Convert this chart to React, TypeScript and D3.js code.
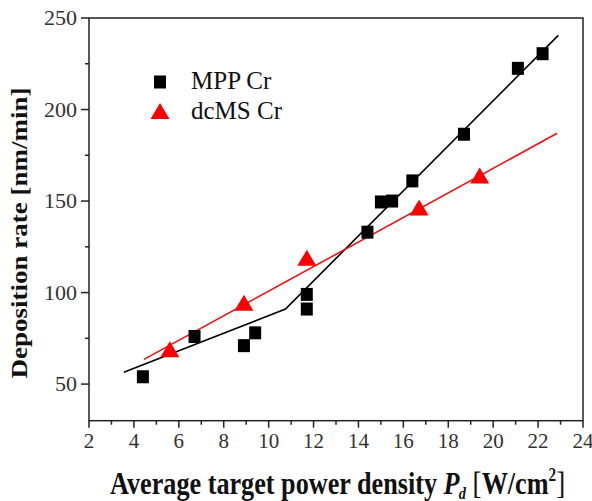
import React from "react";
import * as d3 from "d3";

// Deposition rate vs. average target power density
const mppX = [4.4, 6.7, 8.9, 9.4, 11.7, 11.7, 14.4, 15.0, 15.5, 16.4, 18.7, 21.1, 22.2];
const mppY = [54, 76, 71, 78, 99, 91, 133, 149.5, 150, 161, 186.5, 222.5, 230.5];

const dcmsX = [5.6, 8.9, 11.7, 16.7, 19.4];
const dcmsY = [69, 94.5, 119, 146.5, 164];

// Fitted trend lines (piecewise for MPP, linear for dcMS)
const mppFitX = [3.55, 10.75, 22.9];
const mppFitY = [56.5, 91, 240.5];
const dcmsFitX = [4.45, 22.85];
const dcmsFitY = [63.5, 187];

const xTicks = [2, 4, 6, 8, 10, 12, 14, 16, 18, 20, 22, 24];
const yTicks = [50, 100, 150, 200, 250];

const W = 592;
const H = 501;
const left = 89;
const right = 583;
const top = 18;
const bottom = 420.7;

export default function App() {
  const x = d3.scaleLinear().domain([2, 24]).range([left, right]);
  const y = d3.scaleLinear().domain([30, 250]).range([bottom, top]);

  const line = d3
    .line<[number, number]>()
    .x((d) => x(d[0]))
    .y((d) => y(d[1]));

  const mppFit = mppFitX.map((v, i) => [v, mppFitY[i]] as [number, number]);
  const dcmsFit = dcmsFitX.map((v, i) => [v, dcmsFitY[i]] as [number, number]);

  const xMinor = d3.range(3, 24, 2);
  const yMinor = [75, 125, 175, 225];

  const sqW = 12;
  const sqH = 13;
  const triW = 19;
  const triH = 16;
  const tri = (cx: number, cy: number) =>
    `M${cx - triW / 2},${cy + triH / 2}L${cx + triW / 2},${cy + triH / 2}L${cx},${cy - triH / 2}Z`;

  const axisColor = "#222";
  const serif = "'Liberation Serif', 'Times New Roman', serif";

  return (
    <svg
      width={W}
      height={H}
      style={{ position: "absolute", left: 0, top: 0, background: "#fff" }}
      fontFamily={serif}
    >
      <rect x={0} y={0} width={W} height={H} fill="#fff" />

      {/* frame */}
      <rect
        x={left}
        y={top}
        width={right - left}
        height={bottom - top}
        fill="none"
        stroke={axisColor}
        strokeWidth={1.5}
      />

      {/* x ticks */}
      {xTicks.map((t) => (
        <g key={"xt" + t}>
          <line x1={x(t)} x2={x(t)} y1={bottom} y2={bottom + 7} stroke={axisColor} strokeWidth={1.5} />
          <text
            transform={`translate(${x(t)},448) scale(1.05,1)`}
            textAnchor="middle"
            fontSize={20}
            fill="#333"
          >
            {t}
          </text>
        </g>
      ))}
      {xMinor.map((t) => (
        <line key={"xm" + t} x1={x(t)} x2={x(t)} y1={bottom} y2={bottom + 4} stroke={axisColor} strokeWidth={1.5} />
      ))}

      {/* y ticks */}
      {yTicks.map((t) => (
        <g key={"yt" + t}>
          <line x1={left - 8} x2={left} y1={y(t)} y2={y(t)} stroke={axisColor} strokeWidth={1.5} />
          <text
            transform={`translate(77,${y(t) + 7}) scale(1.1,1)`}
            textAnchor="end"
            fontSize={20}
            fill="#333"
          >
            {t}
          </text>
        </g>
      ))}
      {yMinor.map((t) => (
        <line key={"ym" + t} x1={left - 4} x2={left} y1={y(t)} y2={y(t)} stroke={axisColor} strokeWidth={1.5} />
      ))}

      {/* fit lines */}
      <path d={line(mppFit) ?? ""} fill="none" stroke="#000" strokeWidth={1.6} />
      <path d={line(dcmsFit) ?? ""} fill="none" stroke="#ee1111" strokeWidth={1.6} />

      {/* markers */}
      {mppX.map((v, i) => (
        <rect
          key={"m" + i}
          x={x(v) - sqW / 2}
          y={y(mppY[i]) - sqH / 2}
          width={sqW}
          height={sqH}
          fill="#000"
        />
      ))}
      {dcmsX.map((v, i) => (
        <path key={"d" + i} d={tri(x(v), y(dcmsY[i]))} fill="#ff0000" />
      ))}

      {/* legend */}
      <rect x={160 - sqW / 2} y={82 - sqH / 2} width={sqW} height={sqH} fill="#000" />
      <text x={191} y={88.5} fontSize={25} fill="#111">
        MPP Cr
      </text>
      <path d={tri(160, 111)} fill="#ff0000" />
      <text x={191} y={118.5} fontSize={25} fill="#111">
        dcMS Cr
      </text>

      {/* axis titles */}
      <text
        transform={`translate(27,233) rotate(-90) scale(1,0.83)`}
        textAnchor="middle"
        fontSize={27}
        fontWeight="bold"
        fill="#111"
      >
        Deposition rate [nm/min]
      </text>
      <text
        transform="translate(110,494) scale(0.845,1)"
        fontSize={31}
        fontWeight="bold"
        fill="#111"
      >
        Average target power density{" "}
        <tspan fontStyle="italic">P</tspan>
        <tspan fontStyle="italic" fontSize={17} dx={-1} dy={5}>
          d
        </tspan>
        <tspan dy={-5} fontWeight="normal" fontSize={32}>
          {" "}[
        </tspan>
        <tspan>W/cm</tspan>
        <tspan fontSize={18} dy={-13}>
          2
        </tspan>
        <tspan dy={13} fontWeight="normal" fontSize={32}>
          ]
        </tspan>
      </text>
    </svg>
  );
}
